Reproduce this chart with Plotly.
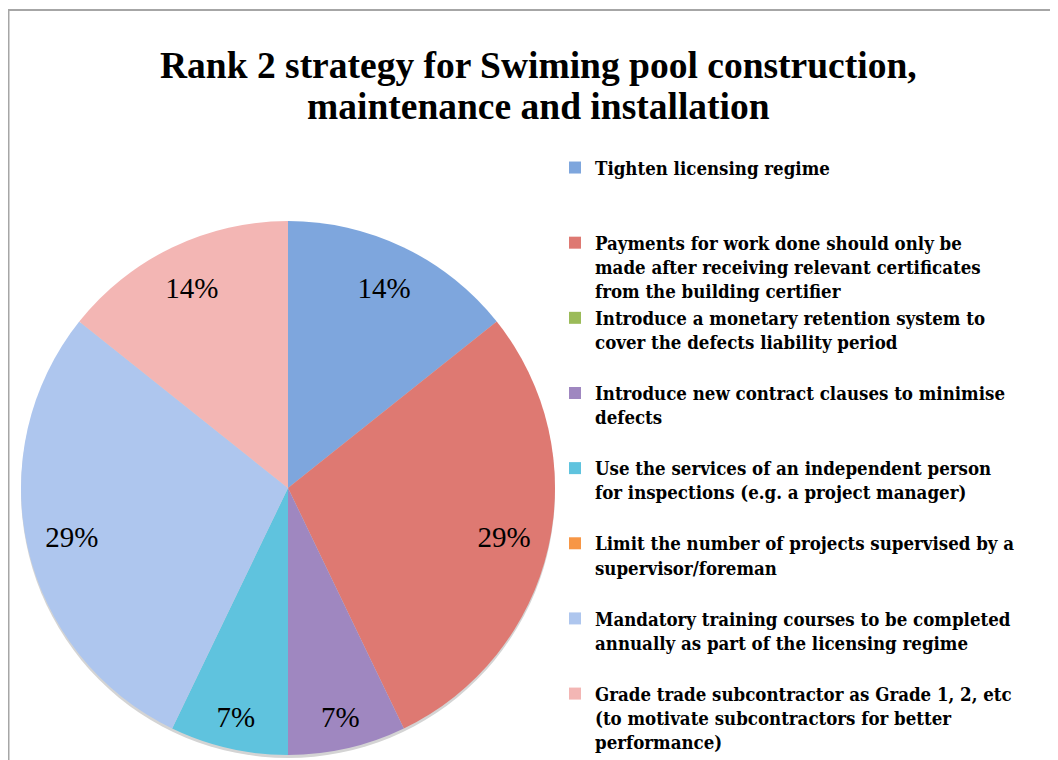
import plotly.graph_objects as go

# Rank 2 strategy counts per option
strategies = [
    "Tighten licensing regime",
    "Payments for work done should only be<br>made after receiving relevant certificates<br>from the building certifier",
    "Introduce a monetary retention system to<br>cover the defects liability period",
    "Introduce new contract clauses to minimise<br>defects",
    "Use the services of an independent person<br>for inspections (e.g. a project manager)",
    "Limit the number of projects supervised by a<br>supervisor/foreman",
    "Mandatory training courses to be completed<br>annually as part of the licensing regime",
    "Grade trade subcontractor as Grade 1, 2, etc<br>(to motivate subcontractors for better<br>performance)",
]
counts = [2, 4, 0, 1, 1, 0, 4, 2]
colors = ["#7ea6dd", "#de7972", "#9bbb59", "#9f87c0", "#5fc3de", "#f79646", "#aec6ee", "#f3b6b4"]

title_lines = ["Rank 2 strategy for Swiming pool construction,", "maintenance and installation"]

total = sum(counts)
pcts = [round(c / total * 100) for c in counts]
# big slices get their label a bit further in than the thin ones (best fit)
big_text = [f"{p}%" if p >= 10 else "" for p in pcts]
small_text = [f"{p}%" if 0 < p < 10 else "" for p in pcts]

# pad every legend entry to three lines so items are evenly spaced
legend_labels = []
for s in strategies:
    n = s.count("<br>") + 1
    legend_labels.append("<b>" + s + "</b>" + "<br> " * (3 - n))

# the page body adds an 8px margin, so the figure is 8px smaller than the window
W, H = 1050, 752
pie_domain = dict(x=[13 / W, 547 / W], y=[1 - 747 / H, 1 - 213 / H])
shadow_domain = dict(x=pie_domain["x"], y=[pie_domain["y"][0] - 3 / H, pie_domain["y"][1] - 3 / H])

fig = go.Figure()
# soft drop shadow under the pie
fig.add_trace(go.Pie(
    labels=["shadow"], values=[total], textinfo="none",
    marker=dict(colors=["#d4d4d4"], line=dict(width=0)),
    domain=shadow_domain, showlegend=False, hoverinfo="skip", sort=False,
))
# coloured slices
fig.add_trace(go.Pie(
    labels=legend_labels,
    values=counts,
    textinfo="none",
    marker=dict(colors=colors, line=dict(width=0)),
    sort=False,
    direction="clockwise",
    rotation=0,
    domain=pie_domain,
    hoverinfo="label+percent",
))
# transparent rings on top, only to carry the percentage labels near the rim
for txt, hole in [(big_text, 0.66), (small_text, 0.76)]:
    fig.add_trace(go.Pie(
        labels=[s.replace("<br>", " ") + " " * (2 if hole > 0.7 else 1) for s in strategies],
        values=counts,
        text=txt,
        textinfo="text",
        textposition="inside",
        insidetextorientation="horizontal",
        textfont=dict(family="Liberation Serif", size=29, color="#000000"),
        marker=dict(colors=["rgba(0,0,0,0)"] * len(counts), line=dict(width=0)),
        hole=hole,
        sort=False,
        direction="clockwise",
        rotation=0,
        domain=pie_domain,
        showlegend=False,
        hoverinfo="skip",
    ))

fig.update_layout(
    width=W, height=H,
    margin=dict(l=0, r=0, t=0, b=0, autoexpand=False),
    paper_bgcolor="white",
    showlegend=True,
    legend=dict(
        x=547 / W, y=1 - 141 / H,
        xanchor="left", yanchor="top",
        valign="top",
        bgcolor="rgba(0,0,0,0)",
        font=dict(family="DejaVu Serif Condensed, DejaVu Serif", size=18.5, color="#000000"),
        itemclick=False,
    ),
    annotations=[
        dict(text="<b>" + title_lines[0] + "</b>", x=530 / W, y=1 - 57 / H,
             xref="paper", yref="paper", xanchor="center", yanchor="middle", showarrow=False,
             font=dict(family="Liberation Serif", size=37.5, color="#000000")),
        dict(text="<b>" + title_lines[1] + "</b>", x=530 / W, y=1 - 98 / H,
             xref="paper", yref="paper", xanchor="center", yanchor="middle", showarrow=False,
             font=dict(family="Liberation Serif", size=37.5, color="#000000")),
    ],
    shapes=[dict(
        type="rect", xref="paper", yref="paper",
        x0=0.5 / W, x1=1.05, y0=-0.05, y1=1 - 2 / H,
        line=dict(color="#a6a6a6", width=2),
    )],
)

fig.write_html("out.html")
